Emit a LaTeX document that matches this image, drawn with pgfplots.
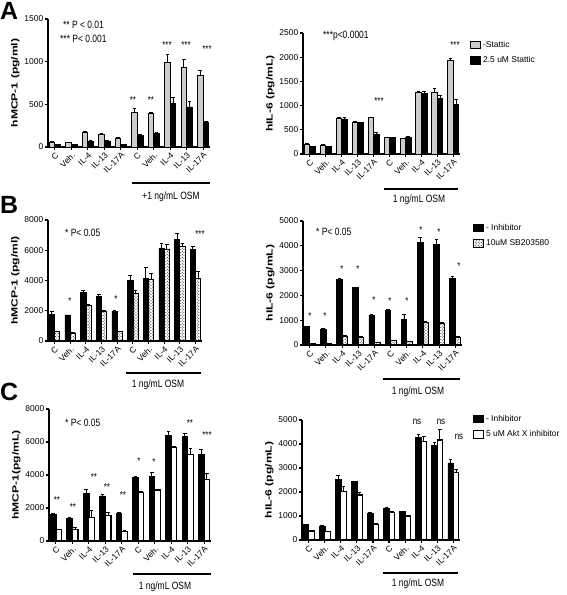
\documentclass[border=0pt]{standalone}
\usepackage{fontspec}
\setmainfont{Liberation Sans}
\usepackage{pgfplots}
\pgfplotsset{compat=1.18}
\usepackage{pgfplotstable}
\usetikzlibrary{patterns}
\newcommand{\fs}[1]{\fontsize{#1}{#1}\selectfont}

\pgfplotstableread{
x a ae b be
0 55 8 30 4
1 52 6 28 4
2 175 8 68 6
3 148 8 65 6
4 105 6 30 4
5 405 45 140 8
6 390 12 160 8
7 985 100 510 70
8 935 95 470 65
9 835 65 295 10
}\dAL
\pgfplotstableread{
x a ae b be
0 193 15 158 8
1 180 12 150 10
2 730 15 725 40
3 660 15 645 15
4 745 15 400 35
5 340 12 335 10
6 315 10 345 15
7 1265 25 1260 40
8 1280 80 1145 70
9 1940 25 1020 100
}\dAR
\pgfplotstableread{
x a ae b be
0 1760 180 617 40
1 1720 0 507 40
2 3200 110 2330 80
3 2930 150 1940 60
4 1980 50 617 30
5 4030 330 3150 220
6 4140 700 4080 400
7 6130 330 6080 310
8 6720 400 6240 220
9 6060 170 4140 440
}\dBL
\pgfplotstableread{
x a ae b be
0 740 20 70 10
1 650 15 55 5
2 2650 20 365 30
3 2310 20 310 20
4 1210 15 95 10
5 1385 40 175 15
6 1020 230 135 15
7 4140 180 930 20
8 4060 200 875 20
9 2690 80 310 20
}\dBR
\pgfplotstableread{
x a ae b be
0 1620 50 690 30
1 1360 40 690 150
2 2880 240 1420 450
3 2740 100 1560 200
4 1665 60 590 30
5 3860 60 2920 60
6 3940 200 3090 60
7 6380 260 5690 60
8 6335 200 5260 370
9 5260 260 3740 360
}\dCL
\pgfplotstableread{
x a ae b be
0 640 20 375 20
1 585 20 345 20
2 2530 180 2015 200
3 2430 20 1875 100
4 1110 20 655 20
5 1320 30 1140 40
6 1180 30 1000 40
7 4280 120 4100 210
8 3930 130 4170 420
9 3210 150 2805 140
}\dCR

\pgfplotsset{
  prism/.style={
    scale only axis, anchor=south west,
    axis lines=left, axis line style={line width=1.5bp, -},
    every outer x axis line/.append style={-},
    every outer y axis line/.append style={-},
    ymin=0, xmin=-0.42, xmax=9.42,
    xtick={0,...,9},
    xticklabels={C,Veh.,IL-4,IL-13,IL-17A,C,Veh.,IL-4,IL-13,IL-17A},
    xticklabel style={rotate=45, anchor=north east, font=\fs{8.5}, inner sep=1bp},
    yticklabel style={font=\fs{8.5}, inner sep=1.5bp},
    tick align=outside, major tick length=3bp,
    tick style={line width=1.1bp, black},
    scaled y ticks=false,
    /pgf/number format/assume math mode=true,
    /pgf/number format/1000 sep={},
    ylabel style={font=\bfseries\fs{9}, xscale=1.35},
    ybar, bar width=0.34,
    clip=false,
    error bars/y dir=plus, error bars/y explicit,
    error bars/error bar style={line width=0.9bp, black, solid},
    error bars/error mark options={rotate=90, mark size=1.8bp, line width=0.9bp, black},
    legend image code/.code={\draw[#1, line width=0.9bp] (0bp,-3.5bp) rectangle (10bp,4bp);},
    legend style={draw=none, fill=none, anchor=north west, font=\fs{8.5},
      inner sep=0pt, row sep=4bp, cells={anchor=west}},
  },
  greybar/.style={fill=black!20, draw=black, line width=1bp},
  blackbar/.style={fill=black, draw=black, line width=0.6bp},
  hatchbar/.style={draw=black, line width=0.8bp, pattern=crosshatch dots, pattern color=black},
  whitebar/.style={fill=white, draw=black, line width=1.2bp},
}

\begin{document}
\begin{tikzpicture}
\useasboundingbox (0,0) rectangle (567bp,-595bp);

% ---------- A left
\begin{axis}[prism, at={(48bp,-147bp)}, width=162bp, height=128bp,
  ymax=1500, ytick={0,500,1000,1500}, ylabel={hMCP-1 (pg/ml)}]
\addplot[greybar, bar shift=-0.17] table[x=x,y=a,y error=ae]{\dAL};
\addplot[blackbar, bar shift=0.17] table[x=x,y=b,y error=be]{\dAL};
\end{axis}

% ---------- A right
\begin{axis}[prism, at={(303bp,-154bp)}, width=157bp, height=121bp,
  ymax=2500, ytick={0,500,...,2500}, ylabel={hIL-6 (pg/mL)},
  legend style={at={(axis description cs:1.064,0.95)}}]
\addplot[greybar, bar shift=-0.17] table[x=x,y=a,y error=ae]{\dAR};
\addlegendentry{-Stattic}
\addplot[blackbar, bar shift=0.17] table[x=x,y=b,y error=be]{\dAR};
\addlegendentry{2.5 uM Stattic}
\end{axis}

% ---------- B left
\begin{axis}[prism, at={(48bp,-341bp)}, width=154bp, height=121bp,
  ymax=8000, ytick={0,2000,...,8000}, ylabel={hMCP-1 (pg/ml)}]
\addplot[blackbar, bar shift=-0.17] table[x=x,y=a,y error=ae]{\dBL};
\addplot[hatchbar, bar shift=0.17] table[x=x,y=b,y error=be]{\dBL};
\end{axis}

% ---------- B right
\begin{axis}[prism, at={(303bp,-345bp)}, width=159bp, height=124bp,
  ymax=5000, ytick={0,1000,...,5000}, ylabel={hIL-6 (pg/mL)},
  legend style={at={(axis description cs:1.069,0.992)}}]
\addplot[blackbar, bar shift=-0.17] table[x=x,y=a,y error=ae]{\dBR};
\addlegendentry{- Inhibitor}
\addplot[hatchbar, bar shift=0.17] table[x=x,y=b,y error=be]{\dBR};
\addlegendentry{10uM SB203580}
\end{axis}

% ---------- C left
\begin{axis}[prism, at={(49bp,-541bp)}, width=162bp, height=132bp,
  ymax=8000, ytick={0,2000,...,8000}, ylabel={hMCP-1(pg/mL)}]
\addplot[blackbar, bar shift=-0.17] table[x=x,y=a,y error=ae]{\dCL};
\addplot[whitebar, bar shift=0.17] table[x=x,y=b,y error=be]{\dCL};
\end{axis}

% ---------- C right
\begin{axis}[prism, at={(302bp,-540bp)}, width=158bp, height=120bp,
  ymax=5000, ytick={0,1000,...,5000}, ylabel={hIL-6 (pg/mL)},
  legend style={at={(axis description cs:1.082,1.058)}}]
\addplot[blackbar, bar shift=-0.17] table[x=x,y=a,y error=ae]{\dCR};
\addlegendentry{- Inhibitor}
\addplot[whitebar, bar shift=0.17] table[x=x,y=b,y error=be]{\dCR};
\addlegendentry{5 uM Akt X inhibitor}
\end{axis}

\begin{scope}[x=1bp, y=-1bp]
% panel letters
\node[anchor=north west, inner sep=0, font=\bfseries\fs{25}] at (0,2) {A};
\node[anchor=north west, inner sep=0, font=\bfseries\fs{25}] at (0,196) {B};
\node[anchor=north west, inner sep=0, font=\bfseries\fs{25}] at (0,383) {C};

\tikzset{note/.style={anchor=west, inner sep=0, font=\fs{8.5}, yscale=1.25},
         star/.style={inner sep=0, font=\fs{8}, yscale=1.25},
         osm/.style={inner sep=0, font=\fs{8.5}, yscale=1.25}}
% A left
\node[note] at (63,25) {** P < 0.01};
\node[note] at (60,39) {*** P< 0.001};
\foreach \x/\y/\s in {133/100/**,151/100/**,167/45/***,186/45/***,207/49/***}
  \node[star] at (\x,\y) {\s};
\draw[line width=1.5bp] (132,183) -- (210,183);
\node[osm] at (171,197) {+1 ng/mL OSM};
% A right
\node[note] at (323,36) {***p<0.0001};
\foreach \x/\y/\s in {379/101/***,455/45/***}
  \node[star] at (\x,\y) {\s};
\draw[line width=1.5bp] (384,189) -- (458,189);
\node[osm] at (419,200) {1 ng/mL OSM};
% B left
\node[note] at (65,233) {* P< 0.05};
\foreach \x/\y/\s in {70/301/*,116/299/*,200/234/***}
  \node[star] at (\x,\y) {\s};
\draw[line width=1.5bp] (126,373) -- (201,373);
\node[osm] at (158,385) {1 ng/mL OSM};
% B right
\node[note] at (316,232) {* P< 0.05};
\foreach \x/\y in {310/316,325/316,342/269,358/269,374/300,390/301,407/301,421/230,439/232,459/266}
  \node[star] at (\x,\y) {*};
\draw[line width=1.5bp] (383,379) -- (460,379);
\node[osm] at (418,392) {1 ng/mL OSM};
% C left
\node[note] at (65,423) {* P< 0.05};
\foreach \x/\y/\s in {57/500/**,73/507/**,94/477/**,107/487/**,123/495/**,139/461/*,154/462/*,190/423/**,207/435/***}
  \node[star] at (\x,\y) {\s};
\draw[line width=1.5bp] (133,574) -- (211,574);
\node[osm] at (165,587) {1 ng/mL OSM};
% C right
\foreach \x/\y in {417/422,441/422,459/437}
  \node[star] at (\x,\y) {ns};
\draw[line width=1.5bp] (383,573) -- (458,573);
\node[osm] at (418,584) {1 ng/mL OSM};
\end{scope}
\end{tikzpicture}
\end{document}
